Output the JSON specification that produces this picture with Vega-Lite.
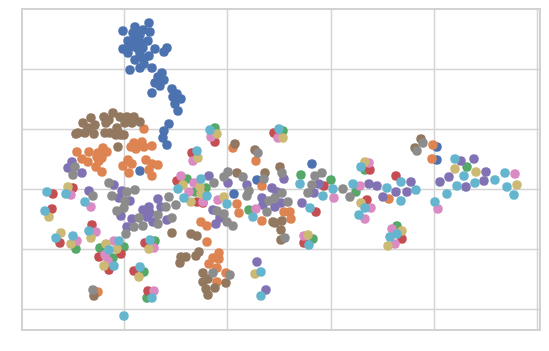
{"$schema":"https://vega.github.io/schema/vega-lite/v6.json","width":518,"height":321,"autosize":"none","padding":{"left":22,"top":9,"right":9,"bottom":21},"background":"white","config":{"view":{"stroke":"#d2d2d2","strokeWidth":2}},
"data":{"values":[
{"x":-78,"y":166,"c":"0"},{"x":-92,"y":162,"c":"0"},{"x":-104,"y":158,"c":"0"},{"x":-84,"y":159,"c":"0"},{"x":-77,"y":157,"c":"0"},{"x":-94,"y":156,"c":"0"},{"x":-87,"y":154,"c":"0"},{"x":-99,"y":148,"c":"0"},{"x":-92,"y":149,"c":"0"},{"x":-79,"y":148,"c":"0"},{"x":-87,"y":147,"c":"0"},{"x":-104,"y":140,"c":"0"},{"x":-97,"y":142,"c":"0"},{"x":-90,"y":141,"c":"0"},{"x":-84,"y":141,"c":"0"},{"x":-72,"y":140,"c":"0"},{"x":-60,"y":141,"c":"0"},{"x":-63,"y":137,"c":"0"},{"x":-99,"y":136,"c":"0"},{"x":-87,"y":136,"c":"0"},{"x":-78,"y":133,"c":"0"},{"x":-92,"y":129,"c":"0"},{"x":-83,"y":130,"c":"0"},{"x":-87,"y":132,"c":"0"},{"x":-97,"y":119,"c":"0"},{"x":-87,"y":121,"c":"0"},{"x":-75,"y":121,"c":"0"},{"x":-83,"y":125,"c":"0"},{"x":-94,"y":146,"c":"0"},{"x":-85,"y":144,"c":"0"},{"x":-65,"y":116,"c":"0"},{"x":-69,"y":112,"c":"0"},{"x":-63,"y":109,"c":"0"},{"x":-72,"y":106,"c":"0"},{"x":-67,"y":103,"c":"0"},{"x":-75,"y":96,"c":"0"},{"x":-55,"y":100,"c":"0"},{"x":-50,"y":95,"c":"0"},{"x":-54,"y":92,"c":"0"},{"x":-46,"y":90,"c":"0"},{"x":-52,"y":85,"c":"0"},{"x":-49,"y":78,"c":"0"},{"x":-58,"y":65,"c":"0"},{"x":-63,"y":58,"c":"0"},{"x":-64,"y":51,"c":"0"},{"x":-60,"y":44,"c":"0"},{"x":-87,"y":18,"c":"0"},{"x":7,"y":-5,"c":"0"},{"x":30,"y":9,"c":"0"},{"x":85,"y":25,"c":"0"},{"x":210,"y":42,"c":"0"},{"x":210,"y":29,"c":"0"},
{"x":-83,"y":60,"c":"1"},{"x":-150,"y":37,"c":"1"},{"x":-138,"y":37,"c":"1"},{"x":-124,"y":41,"c":"1"},{"x":-120,"y":37,"c":"1"},{"x":-129,"y":36,"c":"1"},{"x":-125,"y":31,"c":"1"},{"x":-145,"y":30,"c":"1"},{"x":-139,"y":27,"c":"1"},{"x":-130,"y":32,"c":"1"},{"x":-131,"y":22,"c":"1"},{"x":-128,"y":28,"c":"1"},{"x":-125,"y":17,"c":"1"},{"x":-96,"y":42,"c":"1"},{"x":-93,"y":46,"c":"1"},{"x":-85,"y":47,"c":"1"},{"x":-83,"y":42,"c":"1"},{"x":-91,"y":40,"c":"1"},{"x":-75,"y":43,"c":"1"},{"x":-99,"y":29,"c":"1"},{"x":-95,"y":25,"c":"1"},{"x":-104,"y":23,"c":"1"},{"x":-98,"y":16,"c":"1"},{"x":-81,"y":29,"c":"1"},{"x":-75,"y":25,"c":"1"},{"x":-69,"y":24,"c":"1"},{"x":-78,"y":19,"c":"1"},{"x":-75,"y":13,"c":"1"},{"x":-26,"y":-33,"c":"1"},{"x":-20,"y":-37,"c":"1"},{"x":-20,"y":-53,"c":"1"},{"x":-8,"y":-64,"c":"1"},{"x":-14,"y":-69,"c":"1"},{"x":-8,"y":-70,"c":"1"},{"x":-18,"y":-75,"c":"1"},{"x":-10,"y":-79,"c":"1"},{"x":-1,"y":-84,"c":"1"},{"x":-10,"y":-93,"c":"1"},{"x":6,"y":41,"c":"1"},{"x":29,"y":28,"c":"1"},{"x":35,"y":3,"c":"1"},{"x":10,"y":-15,"c":"1"},{"x":12,"y":-24,"c":"1"},{"x":35,"y":-32,"c":"1"},{"x":57,"y":-23,"c":"1"},{"x":63,"y":-23,"c":"1"},{"x":64,"y":-30,"c":"1"},{"x":206,"y":44,"c":"1"},{"x":205,"y":30,"c":"1"},{"x":162,"y":-10,"c":"1"},{"x":-129,"y":-103,"c":"1"},
{"x":-12,"y":61,"c":"2"},{"x":56,"y":58,"c":"2"},{"x":-40,"y":10,"c":"2"},{"x":-32,"y":-3,"c":"2"},{"x":-21,"y":1,"c":"2"},{"x":22,"y":-21,"c":"2"},{"x":74,"y":14,"c":"2"},{"x":104,"y":9,"c":"2"},{"x":129,"y":-3,"c":"2"},{"x":240,"y":22,"c":"2"},{"x":138,"y":19,"c":"2"},{"x":-151,"y":-60,"c":"2"},{"x":-127,"y":-59,"c":"2"},{"x":-103,"y":-58,"c":"2"},{"x":-114,"y":-69,"c":"2"},{"x":-83,"y":-83,"c":"2"},{"x":-72,"y":-52,"c":"2"},{"x":-80,"y":-109,"c":"2"},{"x":170,"y":-37,"c":"2"},{"x":86,"y":-50,"c":"2"},
{"x":-12,"y":47,"c":"3"},{"x":-35,"y":36,"c":"3"},{"x":47,"y":56,"c":"3"},{"x":-50,"y":8,"c":"3"},{"x":-24,"y":-14,"c":"3"},{"x":-30,"y":-13,"c":"3"},{"x":97,"y":3,"c":"3"},{"x":89,"y":-23,"c":"3"},{"x":143,"y":19,"c":"3"},{"x":169,"y":13,"c":"3"},{"x":140,"y":-11,"c":"3"},{"x":-174,"y":-5,"c":"3"},{"x":-154,"y":1,"c":"3"},{"x":-175,"y":-20,"c":"3"},{"x":-135,"y":-36,"c":"3"},{"x":-167,"y":-54,"c":"3"},{"x":-106,"y":-65,"c":"3"},{"x":-128,"y":-68,"c":"3"},{"x":-118,"y":-81,"c":"3"},{"x":-93,"y":-82,"c":"3"},{"x":-82,"y":-54,"c":"3"},{"x":-79,"y":-102,"c":"3"},{"x":175,"y":-50,"c":"3"},{"x":77,"y":-54,"c":"3"},
{"x":-155,"y":27,"c":"4"},{"x":-159,"y":21,"c":"4"},{"x":-145,"y":16,"c":"4"},{"x":-113,"y":4,"c":"4"},{"x":-105,"y":-2,"c":"4"},{"x":-108,"y":-9,"c":"4"},{"x":-97,"y":-12,"c":"4"},{"x":-106,"y":-27,"c":"4"},{"x":-138,"y":-2,"c":"4"},{"x":-95,"y":-30,"c":"4"},{"x":-100,"y":-38,"c":"4"},{"x":-69,"y":-10,"c":"4"},{"x":-66,"y":-18,"c":"4"},{"x":-78,"y":-18,"c":"4"},{"x":-84,"y":-21,"c":"4"},{"x":-80,"y":-28,"c":"4"},{"x":-74,"y":-33,"c":"4"},{"x":-60,"y":-31,"c":"4"},{"x":-77,"y":-24,"c":"4"},{"x":-18,"y":13,"c":"4"},{"x":1,"y":6,"c":"4"},{"x":-14,"y":-21,"c":"4"},{"x":-5,"y":-28,"c":"4"},{"x":-7,"y":-29,"c":"4"},{"x":-11,"y":-35,"c":"4"},{"x":20,"y":4,"c":"4"},{"x":35,"y":-9,"c":"4"},{"x":45,"y":1,"c":"4"},{"x":36,"y":-16,"c":"4"},{"x":48,"y":-18,"c":"4"},{"x":54,"y":-14,"c":"4"},{"x":57,"y":10,"c":"4"},{"x":50,"y":-3,"c":"4"},{"x":30,"y":-73,"c":"4"},{"x":39,"y":-101,"c":"4"},{"x":92,"y":5,"c":"4"},{"x":87,"y":-4,"c":"4"},{"x":75,"y":-14,"c":"4"},{"x":142,"y":5,"c":"4"},{"x":150,"y":3,"c":"4"},{"x":184,"y":7,"c":"4"},{"x":169,"y":-3,"c":"4"},{"x":180,"y":-3,"c":"4"},{"x":156,"y":-8,"c":"4"},{"x":213,"y":7,"c":"4"},{"x":222,"y":12,"c":"4"},{"x":234,"y":28,"c":"4"},{"x":247,"y":30,"c":"4"},{"x":259,"y":17,"c":"4"},{"x":257,"y":8,"c":"4"},{"x":239,"y":2,"c":"4"},
{"x":-136,"y":71,"c":"5"},{"x":-144,"y":66,"c":"5"},{"x":-114,"y":76,"c":"5"},{"x":-123,"y":72,"c":"5"},{"x":-132,"y":64,"c":"5"},{"x":-139,"y":61,"c":"5"},{"x":-149,"y":56,"c":"5"},{"x":-151,"y":55,"c":"5"},{"x":-142,"y":56,"c":"5"},{"x":-133,"y":55,"c":"5"},{"x":-121,"y":66,"c":"5"},{"x":-118,"y":69,"c":"5"},{"x":-107,"y":72,"c":"5"},{"x":-100,"y":72,"c":"5"},{"x":-93,"y":72,"c":"5"},{"x":-102,"y":66,"c":"5"},{"x":-95,"y":66,"c":"5"},{"x":-87,"y":67,"c":"5"},{"x":-122,"y":56,"c":"5"},{"x":-117,"y":56,"c":"5"},{"x":-110,"y":61,"c":"5"},{"x":-111,"y":54,"c":"5"},{"x":-106,"y":54,"c":"5"},{"x":-103,"y":54,"c":"5"},{"x":-109,"y":57,"c":"5"},{"x":-109,"y":42,"c":"5"},{"x":-55,"y":-44,"c":"5"},{"x":-36,"y":-45,"c":"5"},{"x":-30,"y":-47,"c":"5"},{"x":-28,"y":-63,"c":"5"},{"x":-31,"y":-67,"c":"5"},{"x":-41,"y":-68,"c":"5"},{"x":-46,"y":-68,"c":"5"},{"x":-47,"y":-74,"c":"5"},{"x":-24,"y":-84,"c":"5"},{"x":-19,"y":-90,"c":"5"},{"x":-24,"y":-93,"c":"5"},{"x":-12,"y":-99,"c":"5"},{"x":-21,"y":-100,"c":"5"},{"x":-19,"y":-106,"c":"5"},{"x":-1,"y":-94,"c":"5"},{"x":-133,"y":-107,"c":"5"},{"x":8,"y":45,"c":"5"},{"x":28,"y":39,"c":"5"},{"x":10,"y":16,"c":"5"},{"x":38,"y":16,"c":"5"},{"x":53,"y":22,"c":"5"},{"x":46,"y":-33,"c":"5"},{"x":55,"y":-32,"c":"5"},{"x":54,"y":-41,"c":"5"},{"x":48,"y":-34,"c":"5"},{"x":54,"y":-51,"c":"5"},{"x":194,"y":50,"c":"5"},{"x":188,"y":41,"c":"5"},
{"x":-16,"y":52,"c":"6"},{"x":-34,"y":28,"c":"6"},{"x":51,"y":51,"c":"6"},{"x":-46,"y":13,"c":"6"},{"x":-33,"y":6,"c":"6"},{"x":-38,"y":-3,"c":"6"},{"x":-24,"y":-13,"c":"6"},{"x":-9,"y":-11,"c":"6"},{"x":29,"y":-20,"c":"6"},{"x":107,"y":-9,"c":"6"},{"x":133,"y":3,"c":"6"},{"x":142,"y":26,"c":"6"},{"x":144,"y":-19,"c":"6"},{"x":138,"y":-30,"c":"6"},{"x":211,"y":-20,"c":"6"},{"x":288,"y":15,"c":"6"},{"x":-156,"y":-6,"c":"6"},{"x":-136,"y":-18,"c":"6"},{"x":-131,"y":-43,"c":"6"},{"x":-150,"y":-52,"c":"6"},{"x":-113,"y":-52,"c":"6"},{"x":-122,"y":-66,"c":"6"},{"x":-119,"y":-72,"c":"6"},{"x":-73,"y":-59,"c":"6"},{"x":-73,"y":-102,"c":"6"},{"x":165,"y":-40,"c":"6"},{"x":168,"y":-55,"c":"6"},{"x":77,"y":-47,"c":"6"},
{"x":-152,"y":22,"c":"7"},{"x":-154,"y":14,"c":"7"},{"x":-118,"y":6,"c":"7"},{"x":-115,"y":-7,"c":"7"},{"x":-100,"y":-3,"c":"7"},{"x":-92,"y":-1,"c":"7"},{"x":-102,"y":-12,"c":"7"},{"x":-103,"y":-19,"c":"7"},{"x":-110,"y":-22,"c":"7"},{"x":-134,"y":-7,"c":"7"},{"x":-58,"y":-8,"c":"7"},{"x":-61,"y":-18,"c":"7"},{"x":-51,"y":-16,"c":"7"},{"x":-69,"y":-26,"c":"7"},{"x":-88,"y":-29,"c":"7"},{"x":-55,"y":-29,"c":"7"},{"x":-69,"y":-35,"c":"7"},{"x":-84,"y":-37,"c":"7"},{"x":-93,"y":-38,"c":"7"},{"x":-101,"y":-45,"c":"7"},{"x":-13,"y":6,"c":"7"},{"x":-3,"y":12,"c":"7"},{"x":1,"y":17,"c":"7"},{"x":16,"y":12,"c":"7"},{"x":37,"y":10,"c":"7"},{"x":22,"y":-2,"c":"7"},{"x":20,"y":-7,"c":"7"},{"x":42,"y":-12,"c":"7"},{"x":48,"y":-9,"c":"7"},{"x":-10,"y":-22,"c":"7"},{"x":-3,"y":-25,"c":"7"},{"x":0,"y":-33,"c":"7"},{"x":6,"y":-37,"c":"7"},{"x":40,"y":-23,"c":"7"},{"x":-134,"y":-101,"c":"7"},{"x":-14,"y":-84,"c":"7"},{"x":3,"y":-86,"c":"7"},{"x":31,"y":36,"c":"7"},{"x":55,"y":16,"c":"7"},{"x":55,"y":-4,"c":"7"},{"x":61,"y":-13,"c":"7"},{"x":95,"y":16,"c":"7"},{"x":88,"y":13,"c":"7"},{"x":85,"y":4,"c":"7"},{"x":81,"y":-4,"c":"7"},{"x":116,"y":0,"c":"7"},{"x":123,"y":-8,"c":"7"},{"x":196,"y":46,"c":"7"},{"x":190,"y":38,"c":"7"},{"x":58,"y":-49,"c":"7"},
{"x":-29,"y":31,"c":"8"},{"x":-10,"y":55,"c":"8"},{"x":56,"y":51,"c":"8"},{"x":-44,"y":4,"c":"8"},{"x":-27,"y":2,"c":"8"},{"x":-26,"y":-5,"c":"8"},{"x":-3,"y":-8,"c":"8"},{"x":-36,"y":-13,"c":"8"},{"x":-159,"y":2,"c":"8"},{"x":-178,"y":-28,"c":"8"},{"x":-166,"y":-44,"c":"8"},{"x":-136,"y":-49,"c":"8"},{"x":-156,"y":-55,"c":"8"},{"x":-121,"y":-55,"c":"8"},{"x":-110,"y":-60,"c":"8"},{"x":-123,"y":-77,"c":"8"},{"x":-88,"y":-88,"c":"8"},{"x":-78,"y":-60,"c":"8"},{"x":28,"y":-85,"c":"8"},{"x":138,"y":27,"c":"8"},{"x":228,"y":20,"c":"8"},{"x":249,"y":17,"c":"8"},{"x":290,"y":4,"c":"8"},{"x":134,"y":-14,"c":"8"},{"x":175,"y":-42,"c":"8"},{"x":161,"y":-57,"c":"8"},{"x":81,"y":-46,"c":"8"},
{"x":-17,"y":59,"c":"9"},{"x":-30,"y":38,"c":"9"},{"x":52,"y":60,"c":"9"},{"x":-49,"y":0,"c":"9"},{"x":-26,"y":10,"c":"9"},{"x":-43,"y":-9,"c":"9"},{"x":-20,"y":-7,"c":"9"},{"x":0,"y":-15,"c":"9"},{"x":26,"y":-28,"c":"9"},{"x":73,"y":5,"c":"9"},{"x":106,"y":0,"c":"9"},{"x":83,"y":-19,"c":"9"},{"x":96,"y":-7,"c":"9"},{"x":126,"y":5,"c":"9"},{"x":134,"y":22,"c":"9"},{"x":132,"y":-26,"c":"9"},{"x":138,"y":-19,"c":"9"},{"x":160,"y":1,"c":"9"},{"x":174,"y":7,"c":"9"},{"x":189,"y":-1,"c":"9"},{"x":174,"y":-12,"c":"9"},{"x":208,"y":-13,"c":"9"},{"x":220,"y":-5,"c":"9"},{"x":230,"y":3,"c":"9"},{"x":248,"y":6,"c":"9"},{"x":237,"y":13,"c":"9"},{"x":228,"y":30,"c":"9"},{"x":268,"y":9,"c":"9"},{"x":278,"y":16,"c":"9"},{"x":280,"y":2,"c":"9"},{"x":287,"y":-6,"c":"9"},{"x":-180,"y":-3,"c":"9"},{"x":-161,"y":-5,"c":"9"},{"x":-142,"y":-13,"c":"9"},{"x":-182,"y":-22,"c":"9"},{"x":-138,"y":-42,"c":"9"},{"x":-171,"y":-49,"c":"9"},{"x":-154,"y":-47,"c":"9"},{"x":-108,"y":-52,"c":"9"},{"x":-118,"y":-61,"c":"9"},{"x":-113,"y":-77,"c":"9"},{"x":-87,"y":-78,"c":"9"},{"x":-77,"y":-51,"c":"9"},{"x":-75,"y":-109,"c":"9"},{"x":-103,"y":-127,"c":"9"},{"x":34,"y":-83,"c":"9"},{"x":34,"y":-107,"c":"9"},{"x":82,"y":-56,"c":"9"},{"x":163,"y":-48,"c":"9"},{"x":170,"y":-45,"c":"9"}
]},
"mark":{"type":"circle","size":92,"opacity":1},
"encoding":{
"x":{"field":"x","type":"quantitative","scale":{"domain":[-205,313],"nice":false,"zero":false},"axis":{"title":null,"labels":false,"ticks":false,"domain":false,"grid":true,"gridColor":"#d4d4d4","gridWidth":1.5,"values":[-103.5,0,103.5,207,310]}},
"y":{"field":"y","type":"quantitative","scale":{"domain":[-141,180],"nice":false,"zero":false},"axis":{"title":null,"labels":false,"ticks":false,"domain":false,"grid":true,"gridColor":"#d4d4d4","gridWidth":1.5,"values":[-120,-60,0,60,120]}},
"color":{"field":"c","type":"nominal","legend":null,"scale":{"domain":["0","1","2","3","4","5","6","7","8","9"],"range":["#4C72B0","#DD8452","#55A868","#C44E52","#8172B3","#937860","#DA8BC3","#8C8C8C","#CCB974","#64B5CD"]}}
}}
